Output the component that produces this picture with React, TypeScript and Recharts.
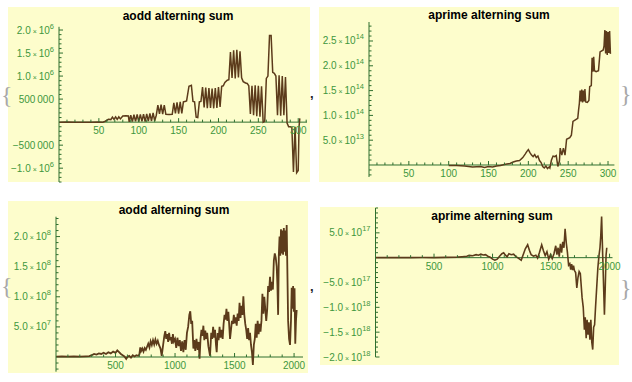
import React from "react";
import { LineChart, Line, XAxis, YAxis, ReferenceLine, ReferenceDot } from "recharts";

// ---------- data: aodd alterning sum (n up to ~300) ----------
const aoddShortX = [
  0, 10, 20, 30, 40, 50, 55, 58, 62, 65,
  67, 69, 71, 73, 75, 77, 80, 84, 87, 88,
  90, 92, 94, 96, 98, 100, 102, 104, 106, 108,
  110, 112, 114, 116, 118, 120, 122, 124, 126, 128,
  130, 132, 134, 138, 142, 144, 146, 148, 150, 152,
  154, 156, 158, 160, 163, 166, 168, 170, 172, 174,
  176, 178, 180, 182, 184, 186, 188, 190, 192, 194,
  196, 198, 200, 202, 204, 206, 208, 211, 213, 215,
  217, 219, 221, 223, 225, 227, 229, 231, 234, 236,
  238, 240, 242, 244, 246, 248, 250, 252, 254, 256,
  258, 260, 262, 264, 266, 268, 270, 272, 274, 276,
  278, 280, 282, 284, 286, 288, 290, 292, 294, 296,
  298, 300, 301, 302,
];
const aoddShortY = [
  0, 2000, -3000, 0, -5000, 3000, 0, 20000, 60000, 55000,
  110000, 60000, 115000, 60000, 115000, 70000, 135000, 140000, 135000, 5000,
  150000, 10000, 160000, 15000, 165000, 10000, 170000, 15000, 175000, 10000,
  180000, 20000, 190000, 25000, 200000, 30000, 150000, 370000, 180000, 380000,
  175000, 370000, 170000, 165000, 170000, 420000, 190000, 430000, 185000, 440000,
  190000, 440000, 450000, 460000, 780000, 800000, 450000, 440000, 110000, 100000,
  440000, 450000, 760000, 320000, 750000, 300000, 740000, 310000, 730000, 300000,
  740000, 310000, 760000, 330000, 780000, 790000, 860000, 910000, 920000, 1520000,
  960000, 1560000, 950000, 1570000, 970000, 1540000, 960000, 880000, 850000, 840000,
  790000, 180000, 790000, 150000, 800000, 130000, 790000, 120000, 780000, 0,
  20000, 950000, 1000000, 1880000, 1880000, 1080000, 1060000, 1000000, 150000, 1020000,
  140000, 1000000, 150000, 980000, -20000, -100000, -100000, -110000, -1080000, -100000,
  -1100000, -1050000, -100000, 80000,
];

// ---------- data: aprime alterning sum (n up to ~300) ----------
const aprimeShortX = [
  100, 110, 120, 130, 140, 145, 150,
  155, 160, 165, 170, 173, 177, 181, 185, 189, 193,
  196, 198, 200, 202, 204, 206, 208, 210, 212, 214,
  216, 218, 220, 222, 224, 226, 227, 229, 231, 233,
  235, 237, 239, 240, 242, 244, 246, 248, 252, 254,
  256, 260, 262, 263, 264, 265, 266, 267, 268, 269,
  270, 271, 272, 274, 276, 277, 279, 280, 281, 282,
  283, 285, 288, 290, 294, 295, 296, 297, 298, 299,
  300, 301, 302, 303,
];
const aprimeShortY = [
  -1e12, -1e12, -2e12, -4e12, -3e12, -5e12, -3e12,
  -4e12, -2e12, -1e12, 1e12, 2e12, 3e12, 6e12, 8e12, 9e12, 15e12,
  22e12, 27e12, 31e12, 25e12, 20e12, 17e12, 21e12, 15e12, 18e12, 9e12,
  5e12, -3e12, -6e12, -2e12, -7e12, -4e12, -6e12, 10e12, 18e12, 17e12,
  19e12, -3e12, 8e12, 34e12, 20e12, 34e12, 20e12, 52e12, 55e12, 60e12,
  88e12, 92e12, 94e12, 110e12, 124e12, 150e12, 128e12, 152e12, 126e12, 150e12,
  128e12, 153e12, 127e12, 126e12, 130e12, 158e12, 160e12, 216e12, 188e12, 218e12,
  190e12, 188e12, 190e12, 228e12, 232e12, 240e12, 272e12, 225e12, 270e12, 222e12,
  268e12, 226e12, 270e12, 224e12,
];

// ---------- data: aodd alterning sum (n up to ~2000) ----------
const aoddLongX = [
  1, 50, 100, 150, 200, 250, 280, 300, 320, 340,
  360, 380, 400, 420, 440, 460, 480, 500, 515, 530,
  545, 560, 575, 590, 600, 615, 630, 645, 660, 675,
  690, 700, 708, 715, 725, 735, 745, 755, 765, 775,
  785, 795, 805, 815, 825, 835, 845, 855, 865, 878,
  888, 900, 910, 918, 926, 934, 942, 950, 958, 966,
  974, 982, 990, 1000, 1010, 1020, 1030, 1040, 1050, 1060,
  1070, 1080, 1090, 1100, 1110, 1120, 1128, 1136, 1144, 1154,
  1162, 1170, 1180, 1190, 1198, 1206, 1214, 1222, 1230, 1238,
  1246, 1254, 1262, 1270, 1280, 1294, 1304, 1312, 1320, 1328,
  1336, 1344, 1350, 1358, 1366, 1374, 1382, 1390, 1400, 1408,
  1416, 1424, 1432, 1440, 1448, 1456, 1462, 1470, 1478, 1486,
  1494, 1502, 1510, 1518, 1526, 1534, 1542, 1550, 1558, 1566,
  1574, 1582, 1590, 1598, 1606, 1614, 1622, 1630, 1638, 1646,
  1654, 1662, 1670, 1678, 1686, 1694, 1702, 1710, 1718, 1726,
  1734, 1742, 1750, 1758, 1766, 1774, 1782, 1790, 1798, 1806,
  1814, 1822, 1830, 1838, 1846, 1854, 1860, 1866, 1872, 1878,
  1884, 1890, 1896, 1902, 1908, 1914, 1920, 1926, 1932, 1938,
  1944, 1950, 1958, 1966, 1974, 1980, 1986, 1992, 1998, 2004,
  2010, 2016, 2022,
];
const aoddLongY = [
  0.5e6, 0.8e6, 0.6e6, 1e6, 0.8e6, 1.2e6, 1.5e6, 3e6, 5e6, 4e6,
  6e6, 5e6, 7e6, 5e6, 8e6, 6e6, 9e6, 7e6, 11e6, 8e6,
  5e6, 3e6, 1e6, -3e6, 0, 2e6, -1e6, 3e6, 1e6, 3e6,
  2e6, 4e6, 16e6, 10e6, 14e6, 9e6, 15e6, 12e6, 17e6, 22e6,
  16e6, 26e6, 20e6, 28e6, 21e6, 29e6, 22e6, 27e6, 20e6, 14e6,
  2e6, 20e6, 35e6, 43e6, 30e6, 38e6, 25e6, 40e6, 28e6, 33e6,
  22e6, 38e6, 26e6, 30e6, 15e6, 32e6, 18e6, 28e6, 10e6, 26e6,
  8e6, 28e6, 12e6, 40e6, 50e6, 70e6, 76e6, 55e6, 60e6, 14e6,
  28e6, 10e6, 30e6, 12e6, 25e6, -3e6, 30e6, 45e6, 35e6, 52e6,
  28e6, 44e6, 30e6, 40e6, 18e6, 2e6, 40e6, 30e6, 50e6, 32e6,
  45e6, 20e6, 8e6, 40e6, 28e6, 50e6, 32e6, 45e6, 30e6, 55e6,
  70e6, 62e6, 80e6, 60e6, 75e6, 50e6, 30e6, 45e6, 60e6, 55e6,
  70e6, 56e6, 66e6, 52e6, 72e6, 60e6, 90e6, 65e6, 85e6, 70e6,
  101e6, 70e6, 55e6, 45e6, 30e6, 48e6, 28e6, 40e6, 20e6, 8e6,
  -13e6, 20e6, 30e6, 55e6, 32e6, 60e6, 38e6, 55e6, 42e6, 60e6,
  105e6, 72e6, 100e6, 80e6, 60e6, 78e6, 118e6, 108e6, 133e6, 110e6,
  125e6, 112e6, 160e6, 172e6, 165e6, 150e6, 120e6, 70e6, 170e6, 200e6,
  168e6, 212e6, 172e6, 210e6, 170e6, 214e6, 175e6, 210e6, 168e6, 219e6,
  140e6, 60e6, 30e6, 20e6, 60e6, 115e6, 80e6, 118e6, 75e6, 114e6,
  22e6, 60e6, 78e6,
];

// ---------- data: aprime alterning sum (n up to ~2000) ----------
const aprimeLongX = [
  1, 100, 200, 300, 400, 500, 600, 700, 740, 780,
  800, 830, 860, 880, 900, 920, 940, 960, 980, 1000,
  1020, 1040, 1060, 1080, 1095, 1110, 1125, 1140, 1160, 1180,
  1200, 1220, 1245, 1265, 1280, 1300, 1315, 1330, 1350, 1370,
  1385, 1400, 1420, 1435, 1450, 1465, 1480, 1495, 1510, 1525,
  1540, 1550, 1560, 1570, 1580, 1590, 1600, 1610, 1620, 1630,
  1640, 1650, 1660, 1668, 1676, 1684, 1692, 1700, 1710, 1720,
  1730, 1740, 1750, 1765, 1775, 1785, 1792, 1800, 1808, 1816,
  1824, 1832, 1840, 1848, 1856, 1864, 1872, 1880, 1890, 1900,
  1910, 1918, 1925, 1932, 1940, 1948, 1956, 1963, 1970, 1976,
];
const aprimeLongY = [
  0, 0, 0, 0, 0.02e17, 0, 0.05e17, 0.1e17, 0.2e17, 0.3e17,
  0.45e17, 0.4e17, 0.6e17, 0.5e17, 0.7e17, 0.55e17, 0.6e17, 0.3e17, 0.1e17, -0.3e17,
  -0.5e17, -0.3e17, 0.3e17, 0.8e17, 1.0e17, 0.5e17, 0.2e17, 0.8e17, 0.6e17, 0.7e17,
  0.2e17, -0.1e17, -0.5e17, 0.8e17, 1.8e17, 2.6e17, 1.5e17, 0.6e17, 0.3e17, 0.5e17,
  -0.1e17, 1.0e17, 2.6e17, 1.4e17, 0.4e17, 1.2e17, -0.3e17, 0.6e17, -0.2e17, 0.8e17,
  2.4e17, 0.6e17, 2.0e17, 0.2e17, 2.8e17, 1.0e17, 3.2e17, 2.0e17, 5.8e17, 3.0e17,
  1.0e17, -1.5e17, -1.2e17, -2.4e17, -1.3e17, -2.5e17, -1.6e17, -2.6e17, -3.0e17, -6.1e17,
  -4.0e17, -2.8e17, -3.2e17, -8.0e17, -10.0e17, -14.5e17, -12.0e17, -16.2e17, -12.5e17, -15.5e17,
  -13.0e17, -16.5e17, -12.5e17, -17.0e17, -18.5e17, -14.0e17, -13.5e17, -10.0e17, -6.0e17, -2.0e17,
  0.5e17, 2.0e17, 4.5e17, 8.3e17, 1.5e17, -5.0e17, -11.5e17, -6.0e17, 0.5e17, 2.0e17,
];

// ---------- ticks and labels ----------
const shortXTicks = [50, 100, 150, 200, 250, 300];
const shortXLabels = ["50", "100", "150", "200", "250", "300"];
const longXTicks = [500, 1000, 1500, 2000];
const longXLabels = ["500", "1000", "1500", "2000"];

type YLab = { m: string; e?: string };

const aoddShortYTicks = [-1e6, -5e5, 5e5, 1e6, 1.5e6, 2e6];
const aoddShortYLabels: YLab[] = [
  { m: "\u22121.0", e: "6" }, { m: "\u2212500\u2009000" }, { m: "500\u2009000" },
  { m: "1.0", e: "6" }, { m: "1.5", e: "6" }, { m: "2.0", e: "6" },
];
const aprimeShortYTicks = [5e13, 1e14, 1.5e14, 2e14, 2.5e14];
const aprimeShortYLabels: YLab[] = [
  { m: "5.0", e: "13" }, { m: "1.0", e: "14" }, { m: "1.5", e: "14" },
  { m: "2.0", e: "14" }, { m: "2.5", e: "14" },
];
const aoddLongYTicks = [5e7, 1e8, 1.5e8, 2e8];
const aoddLongYLabels: YLab[] = [
  { m: "5.0", e: "7" }, { m: "1.0", e: "8" }, { m: "1.5", e: "8" }, { m: "2.0", e: "8" },
];
const aprimeLongYTicks = [5e17, -5e17, -1e18, -1.5e18, -2e18];
const aprimeLongYLabels: YLab[] = [
  { m: "5.0", e: "17" }, { m: "\u22125.0", e: "17" }, { m: "\u22121.0", e: "18" },
  { m: "\u22121.5", e: "18" }, { m: "\u22122.0", e: "18" },
];

// ---------- styling ----------
const AXIS = "#2f6f2f";
const LABEL = "#3d973d";
const LINE = "#5c3b1b";
const BG = "#fdfdcc";
const FONT = "'Liberation Sans', Arial, sans-serif";

function minorTicks(lo: number, hi: number, step: number, majors: number[]) {
  const out: number[] = [];
  const k0 = Math.ceil(lo / step - 1e-9);
  const k1 = Math.floor(hi / step + 1e-9);
  for (let k = k0; k <= k1; k++) {
    if (k === 0) continue;
    const v = k * step;
    if (majors.some((m) => Math.abs(m - v) < step * 1e-6)) continue;
    out.push(v);
  }
  return out;
}

function makeYTick(majors: number[], labels: YLab[]) {
  return (props: any) => {
    const { x, y, payload } = props;
    const v = payload.value;
    const i = majors.findIndex((m) => Math.abs(m - v) < Math.abs(m) * 1e-6);
    const lab = i >= 0 ? labels[i] : null;
    return (
      <g>
        <line x1={x} x2={x + (lab ? 4 : 2.5)} y1={y} y2={y} stroke={AXIS} strokeWidth={1} />
        {lab && (
          <text x={x - 5} y={y + 3.5} textAnchor="end" fontSize={10} fill={LABEL} fontFamily={FONT}>
            {lab.e ? (
              <>
                <tspan>{lab.m}</tspan>
                <tspan fontSize={7}>{" \u00d7 "}</tspan>
                <tspan>10</tspan>
                <tspan dy={-5} fontSize={7.5}>{lab.e}</tspan>
              </>
            ) : (
              lab.m
            )}
          </text>
        )}
      </g>
    );
  };
}

function makeXTick(label: string | null) {
  return (p: any) => (
    <g>
      <line x1={p.cx} x2={p.cx} y1={p.cy} y2={p.cy - (label ? 4 : 2.5)} stroke={AXIS} strokeWidth={1} />
      {label && (
        <text x={p.cx} y={p.cy + 12} textAnchor="middle" fontSize={10} fill={LABEL} fontFamily={FONT}>
          {label}
        </text>
      )}
    </g>
  );
}

interface PanelProps {
  xs: number[];
  ys: number[];
  left: number;
  top: number;
  width: number;
  height: number;
  yAxisW: number;
  mTop: number;
  mRight: number;
  mBottom: number;
  xMax: number;
  yMin: number;
  yMax: number;
  xMajor: number[];
  xLabels: string[];
  xMinorStep: number;
  yMajor: number[];
  yLabels: YLab[];
  yMinorStep: number;
  lineWidth: number;
}

function Panel(p: PanelProps) {
  const data = p.xs.map((x, i) => ({ x, y: p.ys[i] }));
  const yTicks = [...p.yMajor, ...minorTicks(p.yMin, p.yMax, p.yMinorStep, p.yMajor)].sort((a, b) => a - b);
  const xMinor = minorTicks(p.xMinorStep, p.xMax, p.xMinorStep, p.xMajor);
  return (
    <div style={{ position: "absolute", left: p.left, top: p.top, width: p.width, height: p.height, background: BG }}>
      <LineChart
        width={p.width}
        height={p.height}
        data={data}
        margin={{ top: p.mTop, right: p.mRight, bottom: p.mBottom, left: 0 }}
        style={{ overflow: "visible" }}
      >
        <XAxis type="number" dataKey="x" domain={[0, p.xMax]} allowDataOverflow hide />
        <YAxis
          type="number"
          domain={[p.yMin, p.yMax]}
          allowDataOverflow
          width={p.yAxisW}
          ticks={yTicks}
          interval={0}
          tickSize={0}
          tickMargin={0}
          tickLine={false}
          axisLine={{ stroke: AXIS, strokeWidth: 1 }}
          tick={makeYTick(p.yMajor, p.yLabels)}
        />
        <ReferenceLine y={0} stroke={AXIS} strokeWidth={1} />
        {xMinor.map((v) => (
          <ReferenceDot key={"m" + v} x={v} y={0} r={0} shape={makeXTick(null)} />
        ))}
        {p.xMajor.map((v, i) => (
          <ReferenceDot key={"M" + v} x={v} y={0} r={0} shape={makeXTick(p.xLabels[i])} />
        ))}
        <Line
          type="linear"
          dataKey="y"
          stroke={LINE}
          strokeWidth={p.lineWidth}
          dot={false}
          isAnimationActive={false}
        />
      </LineChart>
    </div>
  );
}

export default function App() {
  return (
    <div style={{ position: "relative", width: 632, height: 382, background: "#ffffff", overflow: "hidden" }}>
      <style>{`body{margin:0} .recharts-surface{overflow:visible}`}</style>
      <Panel
        xs={aoddShortX} ys={aoddShortY}
        left={8} top={7} width={302} height={175}
        yAxisW={51} mTop={19.8} mRight={3} mBottom={0}
        xMax={311} yMin={-1.3e6} yMax={2.07e6}
        xMajor={shortXTicks} xLabels={shortXLabels} xMinorStep={10}
        yMajor={aoddShortYTicks} yLabels={aoddShortYLabels} yMinorStep={1e5}
        lineWidth={1.5}
      />
      <Panel
        xs={aprimeShortX} ys={aprimeShortY}
        left={319} top={7} width={300} height={175}
        yAxisW={50} mTop={15} mRight={4.6} mBottom={5}
        xMax={308} yMin={-2.42e13} yMax={2.883e14}
        xMajor={shortXTicks} xLabels={shortXLabels} xMinorStep={10}
        yMajor={aprimeShortYTicks} yLabels={aprimeShortYLabels} yMinorStep={1e13}
        lineWidth={1.5}
      />
      <Panel
        xs={aoddLongX} ys={aoddLongY}
        left={8} top={201} width={300} height={172}
        yAxisW={48} mTop={15.7} mRight={5} mBottom={1.3}
        xMax={2075} yMin={-2.44e7} yMax={2.33e8}
        xMajor={longXTicks} xLabels={longXLabels} xMinorStep={100}
        yMajor={aoddLongYTicks} yLabels={aoddLongYLabels} yMinorStep={1e7}
        lineWidth={1.8}
      />
      <Panel
        xs={aprimeLongX} ys={aprimeLongY}
        left={320} top={207} width={299} height={158}
        yAxisW={55.5} mTop={1} mRight={6.5} mBottom={8}
        xMax={2025} yMin={-2.0e18} yMax={1.0e18}
        xMajor={longXTicks} xLabels={longXLabels} xMinorStep={100}
        yMajor={aprimeLongYTicks} yLabels={aprimeLongYLabels} yMinorStep={1e17}
        lineWidth={1.6}
      />
      <svg
        width={632}
        height={382}
        style={{ position: "absolute", left: 0, top: 0, pointerEvents: "none" }}
      >
        <g fontFamily={FONT} fontWeight="bold" fontSize={12} fill="#000" textAnchor="middle">
          <text x={178} y={19.5}>aodd alterning sum</text>
          <text x={489} y={18.5}>aprime alterning sum</text>
          <text x={174} y={213.5}>aodd alterning sum</text>
          <text x={492} y={220}>aprime alterning sum</text>
        </g>
        <g fontFamily="'Liberation Serif', serif" fill="#a8a8a8" fontSize={24}>
          <text x={1} y={103}>{"{"}</text>
          <text x={1} y={294}>{"{"}</text>
          <text x={620} y={102}>{"}"}</text>
          <text x={620} y={296}>{"}"}</text>
        </g>
        <g fontFamily={FONT} fill="#222" fontSize={13} fontWeight="bold">
          <text x={310} y={98}>,</text>
          <text x={310} y={291}>,</text>
        </g>
      </svg>
    </div>
  );
}
